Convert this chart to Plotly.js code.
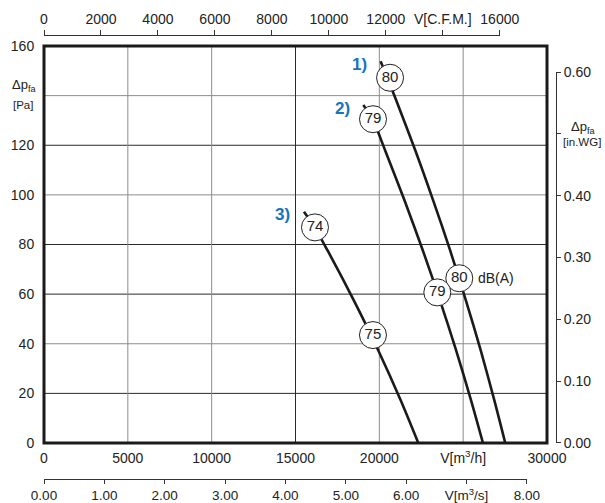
<!DOCTYPE html>
<html>
<head>
<meta charset="utf-8">
<script src="https://cdn.plot.ly/plotly-3.0.1.min.js"></script>
<style>html,body{margin:0;padding:0;background:#fff;}#chart{width:605px;height:503px;}</style>
</head>
<body>
<div id="chart"></div>
<script>
// ---- data ----
const flowC1 = [20075, 20480, 21000, 22137, 23205, 24214, 25157, 26039, 26856, 27510];
const presC1 = [153.9, 147.2, 138.2, 118.1, 97.9, 77.8, 57.6, 37.5, 17.3, 0];
const flowC2 = [19043, 19598, 20337, 21494, 22585, 23611, 24571, 25466, 26182];
const presC2 = [136.2, 130.5, 118.1, 97.9, 77.8, 57.6, 37.5, 17.3, 0];
const flowC3 = [15506, 16139, 16896, 18470, 19926, 21267, 22323];
const presC3 = [93.2, 86.9, 77.8, 57.6, 37.5, 17.3, 0];
const curveNames = ['1)', '2)', '3)'];

const dbFlow = [20640, 24769, 19622, 23457, 16162, 19620];
const dbPres = [147.2, 66.4, 130.5, 60.7, 86.9, 43.5];
const dbText = ['80', '80', '79', '79', '74', '75'];

const xTicksM3h = [0, 5000, 10000, 15000, 20000, 25000, 30000];
const xLabelsM3h = ['0', '5000', '10000', '15000', '20000', 'V[m<sup>3</sup>/h]', '30000'];
const yTicksPa = [0, 20, 40, 60, 80, 100, 120, 140, 160];
const yLabelsPa = ['0', '20', '40', '60', '80', '100', '120', '', '160'];
const xTicksCfm = [0, 2000, 4000, 6000, 8000, 10000, 12000, 14000, 16000];
const xLabelsCfm = ['0', '2000', '4000', '6000', '8000', '10000', '12000', 'V[C.F.M.]', '16000'];
const xTicksM3s = [0, 1, 2, 3, 4, 5, 6, 7, 8];
const xLabelsM3s = ['0.00', '1.00', '2.00', '3.00', '4.00', '5.00', '6.00', 'V[m<sup>3</sup>/s]', '8.00'];
const yTicksIn = [0, 0.1, 0.2, 0.3, 0.4, 0.5, 0.6];
const yLabelsIn = ['0.00', '0.10', '0.20', '0.30', '0.40', '', '0.60'];

const gridDarkY = [20, 60, 80, 120];
const gridGrayY = [40, 100, 140];
const gridDarkX = [15000];
const gridGrayX = [5000, 10000, 20000, 25000];

// ---- unit conversions ----
const M3H_PER_CFM = 1.69901;
const PA_PER_INWG = 249.089;
const XMAX = 30000, YMAX = 160;

// ---- layout geometry ----
const W = 605, H = 503;
const mL = 44, mR = 49, mT = 35, mB = 24;
const pw = W - mL - mR, ph = H - mT - mB;
const xEnd = 503 / pw;
const yStart = (479 - 443) / ph, yEnd = (479 - 46) / ph;

const font = 'Liberation Sans, Arial, sans-serif';
const txt = '#222';
const lineCol = '#1a1a1a';

const traces = [];
// empty traces first so the secondary axes exist (drawn beneath)
traces.push({x: [], y: [], xaxis: 'x2', yaxis: 'y', showlegend: false});
traces.push({x: [], y: [], xaxis: 'x3', yaxis: 'y', showlegend: false});
traces.push({x: [], y: [], xaxis: 'x', yaxis: 'y2', showlegend: false});
[[flowC1, presC1], [flowC2, presC2], [flowC3, presC3]].forEach(([fx, py]) => {
  traces.push({x: fx, y: py, mode: 'lines', type: 'scatter', showlegend: false, hoverinfo: 'skip',
    line: {color: lineCol, width: 2.6, shape: 'spline', smoothing: 0.8}, cliponaxis: false});
});
traces.push({x: dbFlow, y: dbPres, text: dbText, mode: 'markers+text', type: 'scatter', showlegend: false,
  textposition: 'middle center', cliponaxis: false,
  textfont: {family: font, size: 15, color: txt},
  marker: {size: 27, color: '#fff', line: {color: '#222', width: 1}}});

const shapes = [];
gridGrayY.forEach(v => shapes.push({type: 'line', xref: 'x domain', yref: 'y', x0: 0, x1: 1, y0: v, y1: v, layer: 'below', line: {color: '#8c8c8c', width: 1}}));
gridDarkY.forEach(v => shapes.push({type: 'line', xref: 'x domain', yref: 'y', x0: 0, x1: 1, y0: v, y1: v, layer: 'below', line: {color: '#2a2a2a', width: 1}}));
gridGrayX.forEach(v => shapes.push({type: 'line', xref: 'x', yref: 'y domain', x0: v, x1: v, y0: 0, y1: 1, layer: 'below', line: {color: '#8c8c8c', width: 1}}));
gridDarkX.forEach(v => shapes.push({type: 'line', xref: 'x', yref: 'y domain', x0: v, x1: v, y0: 0, y1: 1, layer: 'below', line: {color: '#2a2a2a', width: 1}}));
shapes.push({type: 'rect', xref: 'x domain', yref: 'y domain', x0: 0, x1: 1, y0: 0, y1: 1, layer: 'above', line: {color: '#1a1a1a', width: 3}});

const annotations = [];
const starts = [[flowC1[0], presC1[0]], [flowC2[0], presC2[0]], [flowC3[0], presC3[0]]];
starts.forEach((s, i) => annotations.push({x: s[0], y: s[1], xref: 'x', yref: 'y', text: '<b>' + curveNames[i] + '</b>',
  showarrow: false, xshift: -21, yshift: -3, font: {family: font, size: 17, color: '#1673bf'}}));
annotations.push({x: dbFlow[1], y: dbPres[1], xref: 'x', yref: 'y', text: 'dB(A)', showarrow: false,
  xanchor: 'left', xshift: 17, font: {family: font, size: 14, color: txt}});
// left axis title
annotations.push({x: 0, y: 140, xref: 'x domain', yref: 'y', text: 'Δp<sub>fa</sub>', showarrow: false,
  xanchor: 'right', xshift: -6, yshift: 10, font: {family: font, size: 13, color: txt}});
annotations.push({x: 0, y: 140, xref: 'x domain', yref: 'y', text: '[Pa]', showarrow: false,
  xanchor: 'right', xshift: -9, yshift: -9, font: {family: font, size: 11.5, color: txt}});
// right axis title
annotations.push({x: 1, y: 0.5, xref: 'paper', yref: 'y2', text: 'Δp<sub>fa</sub>', showarrow: false,
  xanchor: 'center', xshift: 27, yshift: 6, font: {family: font, size: 13, color: txt}});
annotations.push({x: 1, y: 0.5, xref: 'paper', yref: 'y2', text: '[in.WG]', showarrow: false,
  xanchor: 'center', xshift: 26, yshift: -8, font: {family: font, size: 11.5, color: txt}});

const tickFont = {family: font, size: 14, color: txt};
const layout = {
  width: W, height: H,
  margin: {l: mL, r: mR, t: mT, b: mB, pad: 0},
  paper_bgcolor: '#fff', plot_bgcolor: 'rgba(0,0,0,0)',
  showlegend: false,
  xaxis: {domain: [0, xEnd], range: [0, XMAX], tickvals: xTicksM3h, ticktext: xLabelsM3h,
    showgrid: false, zeroline: false, showline: false, ticks: 'outside', ticklen: 2, tickcolor: 'rgba(0,0,0,0)',
    tickfont: tickFont, anchor: 'y', fixedrange: true},
  yaxis: {domain: [yStart, yEnd], range: [0, YMAX], tickvals: yTicksPa, ticktext: yLabelsPa,
    showgrid: false, zeroline: false, showline: false, ticks: 'outside', ticklen: 6, tickcolor: 'rgba(0,0,0,0)',
    tickfont: tickFont, anchor: 'x', fixedrange: true},
  xaxis2: {domain: [0, xEnd * (16000 * M3H_PER_CFM / XMAX)], range: [0, 16000], tickvals: xTicksCfm, ticktext: xLabelsCfm,
    side: 'top', anchor: 'free', position: 1, showgrid: false, zeroline: false, showline: true, linecolor: '#333', linewidth: 1,
    ticks: 'outside', ticklen: 5, tickcolor: '#333', tickwidth: 1, tickfont: tickFont, fixedrange: true},
  xaxis3: {domain: [0, xEnd * (8 * 3600 / XMAX)], range: [0, 8], tickvals: xTicksM3s, ticktext: xLabelsM3s,
    side: 'bottom', anchor: 'free', position: 0, showgrid: false, zeroline: false, showline: true, linecolor: '#333', linewidth: 1,
    ticks: 'outside', ticklen: 4, tickcolor: '#333', tickwidth: 1, tickfont: {family: font, size: 13.5, color: txt}, fixedrange: true},
  yaxis2: {domain: [yStart, yStart + (yEnd - yStart) * (0.6 * PA_PER_INWG / YMAX)], range: [0, 0.6], tickvals: yTicksIn, ticktext: yLabelsIn,
    side: 'right', anchor: 'free', position: 1, showgrid: false, zeroline: false, showline: true, linecolor: '#333', linewidth: 1,
    ticks: 'outside', ticklen: 4, tickcolor: '#333', tickwidth: 1, tickfont: tickFont, fixedrange: true},
  shapes: shapes,
  annotations: annotations
};

Plotly.newPlot('chart', traces, layout, {displayModeBar: false, staticPlot: true});
</script>
</body>
</html>
